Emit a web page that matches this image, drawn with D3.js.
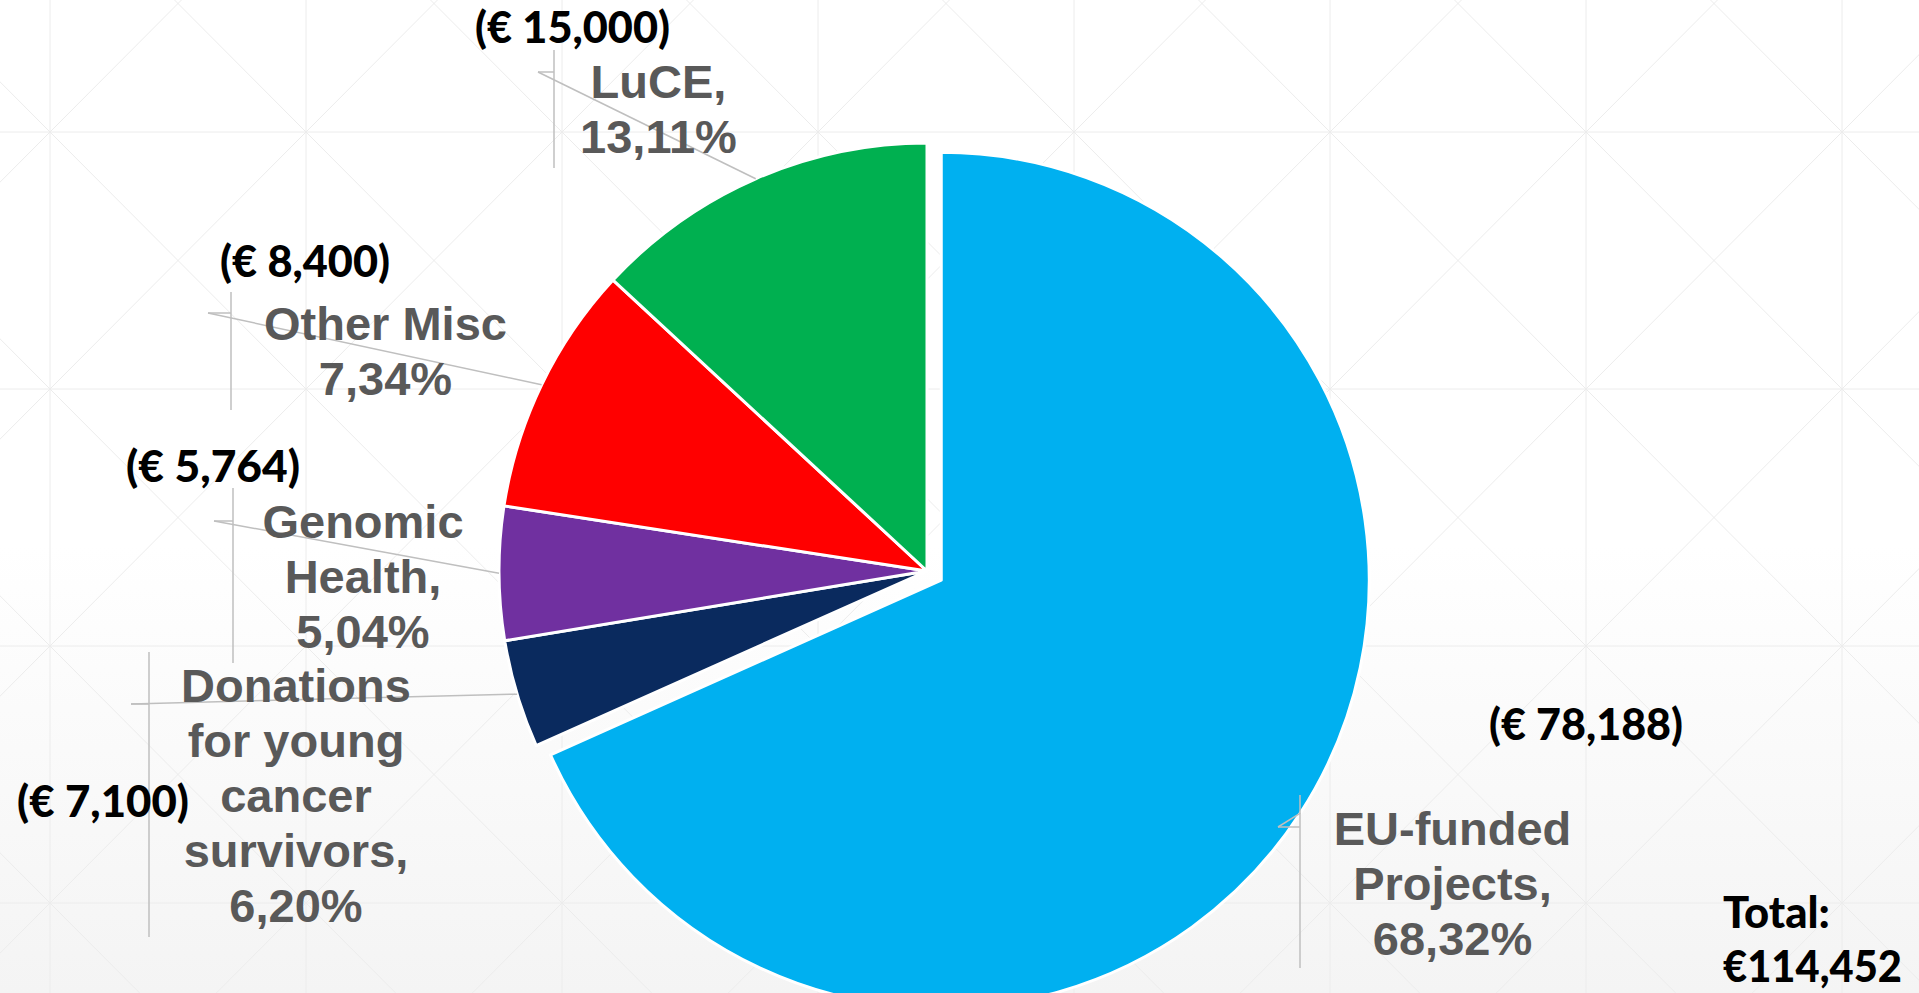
<!DOCTYPE html>
<html>
<head>
<meta charset="utf-8">
<script src="https://cdn.jsdelivr.net/npm/d3@7/dist/d3.min.js"></script>
<style>
html,body{margin:0;padding:0;background:#fff;overflow:hidden}
svg{display:block}
</style>
</head>
<body>
<svg id="chart" width="1919" height="993"></svg>
<script>
// ---------- data ----------
const categories   = ["EU-funded Projects", "Donations for young cancer survivors", "Genomic Health", "Other Misc", "LuCE"];
// slice sizes as drawn (angles measured on the picture), in euro
const sliceValues  = [78188, 4670, 5764, 10830, 15000];
const amountLabels = ["(€ 78,188)", "(€ 7,100)", "(€ 5,764)", "(€ 8,400)", "(€ 15,000)"];
const percentLabels = ["68,32%", "6,20%", "5,04%", "7,34%", "13,11%"];
const nameLines    = [["EU-funded", "Projects,"], ["Donations", "for young", "cancer", "survivors,"], ["Genomic", "Health,"], ["Other Misc"], ["LuCE,"]];
const totalLines   = ["Total:", "€114,452"];
const sliceColors  = ["#00B0F0", "#0a2a5e", "#7030A0", "#FF0000", "#00B050"];

// ---------- layout ----------
const W = 1919, H = 993;
const cx = 927, cy = 571, R = 428, explode = 17;
const lineStep = 55;
const labelLayout = [
  {cx: 1452.5, y0: 845, ax: 1489, ay: 740, aw: 194, vx: 1300, v0: 795, v1: 968, tx: 1278, ty: 827},
  {cx: 296,    y0: 702, ax: 17,   ay: 817, aw: 172, vx: 149,  v0: 652, v1: 937, tx: 131,  ty: 704},
  {cx: 363,    y0: 538, ax: 126,  ay: 482, aw: 174, vx: 233,  v0: 488, v1: 663, tx: 214,  ty: 521},
  {cx: 385.5,  y0: 340, ax: 220,  ay: 277, aw: 170, vx: 231,  v0: 292, v1: 410, tx: 208,  ty: 313},
  {cx: 658.5,  y0: 98,  ax: 475,  ay: 43,  aw: 195, vx: 554,  v0: 50,  v1: 168, tx: 538,  ty: 72}
];
const totalLayout = {x: 1723, y: [928, 982], w: [107, 179]};

const svg = d3.select("#chart");

// background with soft gradient
const defs = svg.append("defs");
const grad = defs.append("linearGradient").attr("id", "bg").attr("x1", 0).attr("y1", 0).attr("x2", 0).attr("y2", 1);
grad.append("stop").attr("offset", "0.55").attr("stop-color", "#ffffff");
grad.append("stop").attr("offset", "1").attr("stop-color", "#f4f4f4");
svg.append("rect").attr("width", W).attr("height", H).attr("fill", "url(#bg)");

// faint triangle grid
const gx0 = 50, gy0 = 132, gw = 256, gh = 257;
const grid = svg.append("g").attr("stroke", "#ececec").attr("stroke-width", 1).attr("fill", "none");
const xs = d3.range(-2, 10).map(k => gx0 + k * gw);
const ys = d3.range(-1, 5).map(k => gy0 + k * gh);
grid.selectAll("line.v").data(xs).join("line").attr("class", "v")
  .attr("x1", d => d).attr("x2", d => d).attr("y1", 0).attr("y2", H);
grid.selectAll("line.h").data(ys).join("line").attr("class", "h")
  .attr("x1", 0).attr("x2", W).attr("y1", d => d).attr("y2", d => d);
const cells = [];
xs.forEach(x => ys.forEach(y => cells.push({x, y})));
grid.selectAll("path.d").data(cells).join("path").attr("class", "d")
  .attr("d", c => `M${c.x},${c.y}L${c.x + gw},${c.y + gh}M${c.x + gw},${c.y}L${c.x},${c.y + gh}`);

// pie
const color = d3.scaleOrdinal().domain(categories).range(sliceColors);
const pie = d3.pie().sort(null).value(d => d.v);
const arcs = pie(categories.map((c, i) => ({c, v: sliceValues[i], i})));
const arc = d3.arc().innerRadius(0).outerRadius(R);
const edge = d3.arc().innerRadius(R).outerRadius(R);

function offset(d) {
  if (d.index !== 0) return [0, 0];
  const a = (d.startAngle + d.endAngle) / 2;
  return [Math.sin(a) * explode, -Math.cos(a) * explode];
}

const pg = svg.append("g").attr("transform", `translate(${cx},${cy})`);
pg.selectAll("path").data(arcs).join("path")
  .attr("transform", d => `translate(${offset(d)})`)
  .attr("d", arc)
  .attr("fill", d => color(d.data.c))
  .attr("stroke", "#ffffff")
  .attr("stroke-width", 3)
  .attr("stroke-linejoin", "round");

// leader lines
const lg = svg.append("g").attr("stroke", "#bfbfbf").attr("stroke-width", 1.5).attr("fill", "none");
arcs.forEach((d, i) => {
  const L = labelLayout[i];
  const o = offset(d);
  const e = edge.centroid(d);
  const ex = cx + e[0] + o[0], ey = cy + e[1] + o[1];
  lg.append("line").attr("x1", L.vx).attr("x2", L.vx).attr("y1", L.v0).attr("y2", L.v1);
  lg.append("line").attr("x1", L.tx).attr("x2", L.vx).attr("y1", L.ty).attr("y2", L.ty);
  lg.append("line").attr("x1", L.tx).attr("y1", L.ty).attr("x2", ex).attr("y2", ey);
});

// category labels (gray)
const tg = svg.append("g").attr("font-family", "'Liberation Sans', Arial, sans-serif")
  .attr("font-weight", "bold").attr("font-size", 47).attr("fill", "#595959").attr("text-anchor", "middle");
arcs.forEach((d, i) => {
  const L = labelLayout[i];
  const lines = nameLines[i].concat([percentLabels[i]]);
  const t = tg.append("text");
  lines.forEach((s, k) => t.append("tspan").attr("x", L.cx).attr("y", L.y0 + k * lineStep).text(s));
});

// amount labels (black)
const ag = svg.append("g").attr("font-family", "Lato, 'Open Sans', sans-serif")
  .attr("font-weight", "900").attr("font-size", 43).attr("fill", "#000");
arcs.forEach((d, i) => {
  const L = labelLayout[i];
  ag.append("text").attr("x", L.ax).attr("y", L.ay)
    .attr("textLength", L.aw).attr("lengthAdjust", "spacingAndGlyphs").text(amountLabels[i]);
});

// total
totalLines.forEach((s, k) => {
  ag.append("text").attr("x", totalLayout.x).attr("y", totalLayout.y[k])
    .attr("textLength", totalLayout.w[k]).attr("lengthAdjust", "spacingAndGlyphs").text(s);
});
</script>
</body>
</html>
